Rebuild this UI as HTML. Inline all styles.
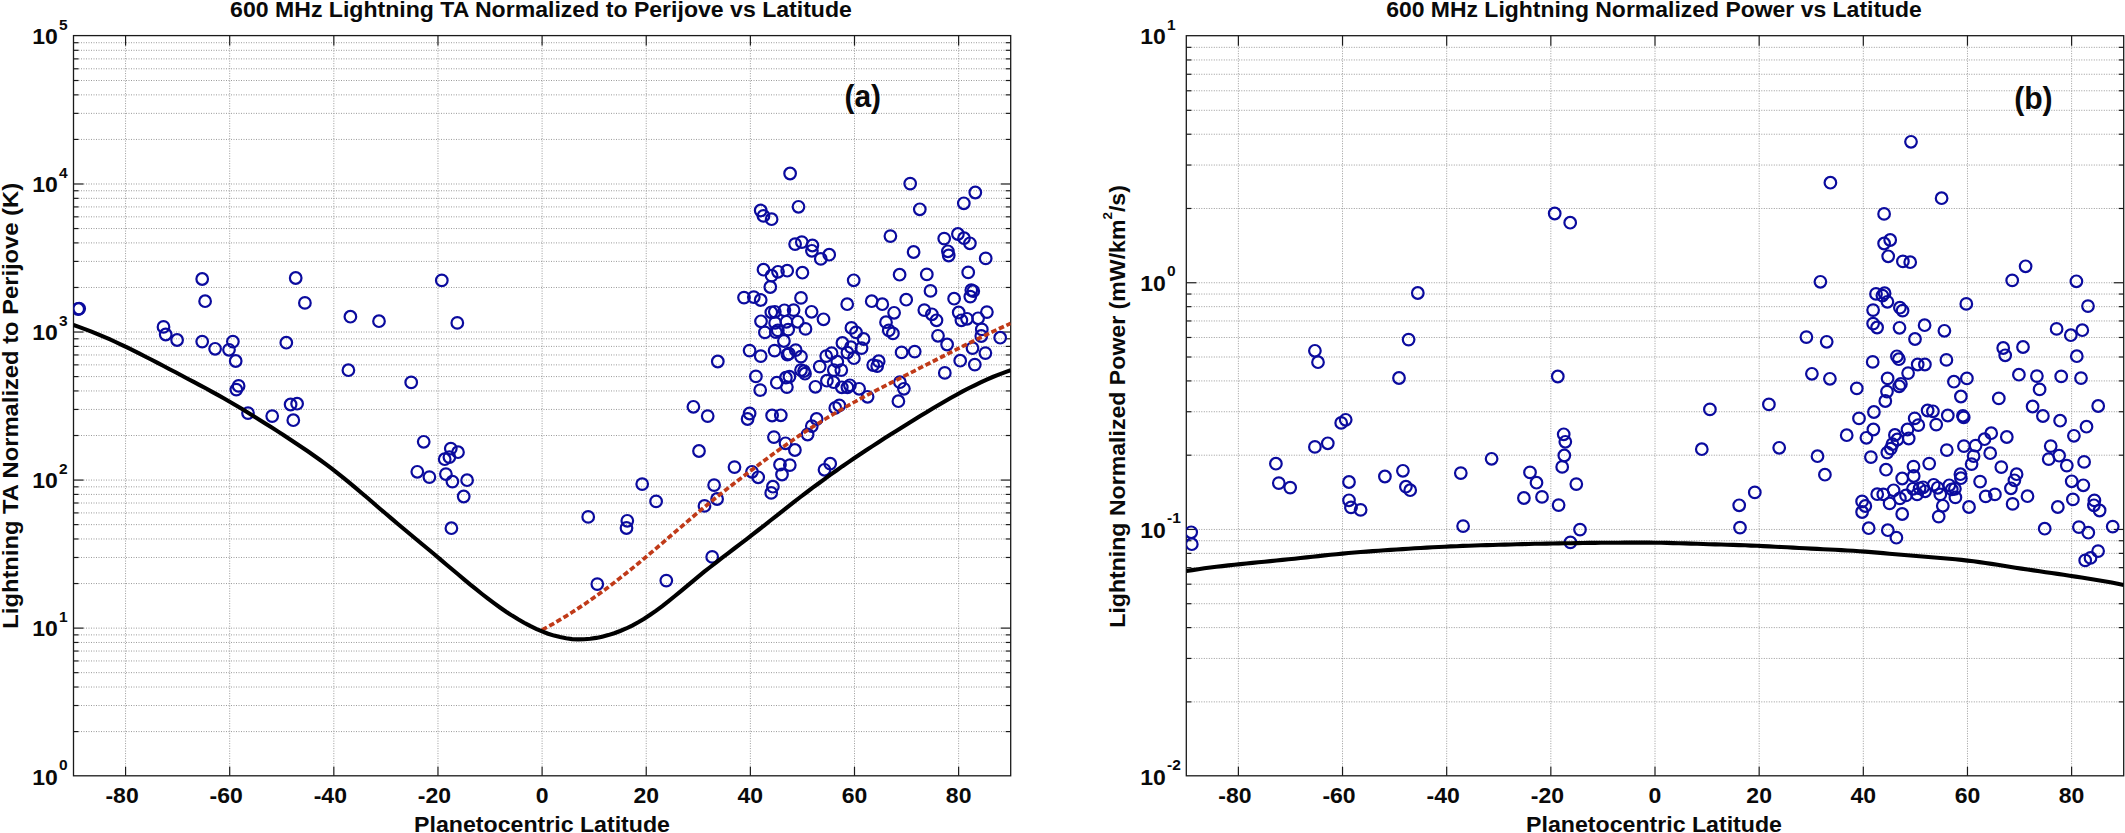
<!DOCTYPE html>
<html lang="en"><head><meta charset="utf-8"><title>600 MHz Lightning vs Latitude</title>
<style>html,body{margin:0;padding:0;background:#fff}svg{display:block}</style></head>
<body>
<svg width="2125" height="833" viewBox="0 0 2125 833">
<style>.gr{stroke:#9a9a9a;stroke-width:1;stroke-dasharray:1 1.5}text{fill:#0a0a0a}</style>
<rect width="2125" height="833" fill="#fff"/>
<g><line x1="125.57" y1="45.60" x2="125.57" y2="766.80" class="gr"/><line x1="229.70" y1="45.60" x2="229.70" y2="766.80" class="gr"/><line x1="333.83" y1="45.60" x2="333.83" y2="766.80" class="gr"/><line x1="437.97" y1="45.60" x2="437.97" y2="766.80" class="gr"/><line x1="542.10" y1="45.60" x2="542.10" y2="766.80" class="gr"/><line x1="646.23" y1="45.60" x2="646.23" y2="766.80" class="gr"/><line x1="750.37" y1="45.60" x2="750.37" y2="766.80" class="gr"/><line x1="854.50" y1="45.60" x2="854.50" y2="766.80" class="gr"/><line x1="958.63" y1="45.60" x2="958.63" y2="766.80" class="gr"/><line x1="78.50" y1="139.43" x2="1005.70" y2="139.43" class="gr"/><line x1="78.50" y1="113.36" x2="1005.70" y2="113.36" class="gr"/><line x1="78.50" y1="94.86" x2="1005.70" y2="94.86" class="gr"/><line x1="78.50" y1="80.51" x2="1005.70" y2="80.51" class="gr"/><line x1="78.50" y1="68.79" x2="1005.70" y2="68.79" class="gr"/><line x1="78.50" y1="58.88" x2="1005.70" y2="58.88" class="gr"/><line x1="78.50" y1="50.30" x2="1005.70" y2="50.30" class="gr"/><line x1="78.50" y1="42.72" x2="1005.70" y2="42.72" class="gr"/><line x1="83.50" y1="183.99" x2="1000.70" y2="183.99" class="gr"/><line x1="78.50" y1="287.47" x2="1005.70" y2="287.47" class="gr"/><line x1="78.50" y1="261.40" x2="1005.70" y2="261.40" class="gr"/><line x1="78.50" y1="242.90" x2="1005.70" y2="242.90" class="gr"/><line x1="78.50" y1="228.55" x2="1005.70" y2="228.55" class="gr"/><line x1="78.50" y1="216.83" x2="1005.70" y2="216.83" class="gr"/><line x1="78.50" y1="206.92" x2="1005.70" y2="206.92" class="gr"/><line x1="78.50" y1="198.34" x2="1005.70" y2="198.34" class="gr"/><line x1="78.50" y1="190.76" x2="1005.70" y2="190.76" class="gr"/><line x1="83.50" y1="332.03" x2="1000.70" y2="332.03" class="gr"/><line x1="78.50" y1="435.51" x2="1005.70" y2="435.51" class="gr"/><line x1="78.50" y1="409.44" x2="1005.70" y2="409.44" class="gr"/><line x1="78.50" y1="390.94" x2="1005.70" y2="390.94" class="gr"/><line x1="78.50" y1="376.59" x2="1005.70" y2="376.59" class="gr"/><line x1="78.50" y1="364.87" x2="1005.70" y2="364.87" class="gr"/><line x1="78.50" y1="354.96" x2="1005.70" y2="354.96" class="gr"/><line x1="78.50" y1="346.38" x2="1005.70" y2="346.38" class="gr"/><line x1="78.50" y1="338.80" x2="1005.70" y2="338.80" class="gr"/><line x1="83.50" y1="480.07" x2="1000.70" y2="480.07" class="gr"/><line x1="78.50" y1="583.55" x2="1005.70" y2="583.55" class="gr"/><line x1="78.50" y1="557.48" x2="1005.70" y2="557.48" class="gr"/><line x1="78.50" y1="538.98" x2="1005.70" y2="538.98" class="gr"/><line x1="78.50" y1="524.63" x2="1005.70" y2="524.63" class="gr"/><line x1="78.50" y1="512.91" x2="1005.70" y2="512.91" class="gr"/><line x1="78.50" y1="503.00" x2="1005.70" y2="503.00" class="gr"/><line x1="78.50" y1="494.42" x2="1005.70" y2="494.42" class="gr"/><line x1="78.50" y1="486.84" x2="1005.70" y2="486.84" class="gr"/><line x1="83.50" y1="628.11" x2="1000.70" y2="628.11" class="gr"/><line x1="78.50" y1="731.59" x2="1005.70" y2="731.59" class="gr"/><line x1="78.50" y1="705.52" x2="1005.70" y2="705.52" class="gr"/><line x1="78.50" y1="687.02" x2="1005.70" y2="687.02" class="gr"/><line x1="78.50" y1="672.67" x2="1005.70" y2="672.67" class="gr"/><line x1="78.50" y1="660.95" x2="1005.70" y2="660.95" class="gr"/><line x1="78.50" y1="651.04" x2="1005.70" y2="651.04" class="gr"/><line x1="78.50" y1="642.46" x2="1005.70" y2="642.46" class="gr"/><line x1="78.50" y1="634.88" x2="1005.70" y2="634.88" class="gr"/></g><g stroke="#1a1a1a" stroke-width="1.2"><line x1="73.50" y1="139.43" x2="78.50" y2="139.43"/><line x1="1010.70" y1="139.43" x2="1005.70" y2="139.43"/><line x1="73.50" y1="113.36" x2="78.50" y2="113.36"/><line x1="1010.70" y1="113.36" x2="1005.70" y2="113.36"/><line x1="73.50" y1="94.86" x2="78.50" y2="94.86"/><line x1="1010.70" y1="94.86" x2="1005.70" y2="94.86"/><line x1="73.50" y1="80.51" x2="78.50" y2="80.51"/><line x1="1010.70" y1="80.51" x2="1005.70" y2="80.51"/><line x1="73.50" y1="68.79" x2="78.50" y2="68.79"/><line x1="1010.70" y1="68.79" x2="1005.70" y2="68.79"/><line x1="73.50" y1="58.88" x2="78.50" y2="58.88"/><line x1="1010.70" y1="58.88" x2="1005.70" y2="58.88"/><line x1="73.50" y1="50.30" x2="78.50" y2="50.30"/><line x1="1010.70" y1="50.30" x2="1005.70" y2="50.30"/><line x1="73.50" y1="42.72" x2="78.50" y2="42.72"/><line x1="1010.70" y1="42.72" x2="1005.70" y2="42.72"/><line x1="73.50" y1="183.99" x2="83.50" y2="183.99"/><line x1="1010.70" y1="183.99" x2="1000.70" y2="183.99"/><line x1="73.50" y1="287.47" x2="78.50" y2="287.47"/><line x1="1010.70" y1="287.47" x2="1005.70" y2="287.47"/><line x1="73.50" y1="261.40" x2="78.50" y2="261.40"/><line x1="1010.70" y1="261.40" x2="1005.70" y2="261.40"/><line x1="73.50" y1="242.90" x2="78.50" y2="242.90"/><line x1="1010.70" y1="242.90" x2="1005.70" y2="242.90"/><line x1="73.50" y1="228.55" x2="78.50" y2="228.55"/><line x1="1010.70" y1="228.55" x2="1005.70" y2="228.55"/><line x1="73.50" y1="216.83" x2="78.50" y2="216.83"/><line x1="1010.70" y1="216.83" x2="1005.70" y2="216.83"/><line x1="73.50" y1="206.92" x2="78.50" y2="206.92"/><line x1="1010.70" y1="206.92" x2="1005.70" y2="206.92"/><line x1="73.50" y1="198.34" x2="78.50" y2="198.34"/><line x1="1010.70" y1="198.34" x2="1005.70" y2="198.34"/><line x1="73.50" y1="190.76" x2="78.50" y2="190.76"/><line x1="1010.70" y1="190.76" x2="1005.70" y2="190.76"/><line x1="73.50" y1="332.03" x2="83.50" y2="332.03"/><line x1="1010.70" y1="332.03" x2="1000.70" y2="332.03"/><line x1="73.50" y1="435.51" x2="78.50" y2="435.51"/><line x1="1010.70" y1="435.51" x2="1005.70" y2="435.51"/><line x1="73.50" y1="409.44" x2="78.50" y2="409.44"/><line x1="1010.70" y1="409.44" x2="1005.70" y2="409.44"/><line x1="73.50" y1="390.94" x2="78.50" y2="390.94"/><line x1="1010.70" y1="390.94" x2="1005.70" y2="390.94"/><line x1="73.50" y1="376.59" x2="78.50" y2="376.59"/><line x1="1010.70" y1="376.59" x2="1005.70" y2="376.59"/><line x1="73.50" y1="364.87" x2="78.50" y2="364.87"/><line x1="1010.70" y1="364.87" x2="1005.70" y2="364.87"/><line x1="73.50" y1="354.96" x2="78.50" y2="354.96"/><line x1="1010.70" y1="354.96" x2="1005.70" y2="354.96"/><line x1="73.50" y1="346.38" x2="78.50" y2="346.38"/><line x1="1010.70" y1="346.38" x2="1005.70" y2="346.38"/><line x1="73.50" y1="338.80" x2="78.50" y2="338.80"/><line x1="1010.70" y1="338.80" x2="1005.70" y2="338.80"/><line x1="73.50" y1="480.07" x2="83.50" y2="480.07"/><line x1="1010.70" y1="480.07" x2="1000.70" y2="480.07"/><line x1="73.50" y1="583.55" x2="78.50" y2="583.55"/><line x1="1010.70" y1="583.55" x2="1005.70" y2="583.55"/><line x1="73.50" y1="557.48" x2="78.50" y2="557.48"/><line x1="1010.70" y1="557.48" x2="1005.70" y2="557.48"/><line x1="73.50" y1="538.98" x2="78.50" y2="538.98"/><line x1="1010.70" y1="538.98" x2="1005.70" y2="538.98"/><line x1="73.50" y1="524.63" x2="78.50" y2="524.63"/><line x1="1010.70" y1="524.63" x2="1005.70" y2="524.63"/><line x1="73.50" y1="512.91" x2="78.50" y2="512.91"/><line x1="1010.70" y1="512.91" x2="1005.70" y2="512.91"/><line x1="73.50" y1="503.00" x2="78.50" y2="503.00"/><line x1="1010.70" y1="503.00" x2="1005.70" y2="503.00"/><line x1="73.50" y1="494.42" x2="78.50" y2="494.42"/><line x1="1010.70" y1="494.42" x2="1005.70" y2="494.42"/><line x1="73.50" y1="486.84" x2="78.50" y2="486.84"/><line x1="1010.70" y1="486.84" x2="1005.70" y2="486.84"/><line x1="73.50" y1="628.11" x2="83.50" y2="628.11"/><line x1="1010.70" y1="628.11" x2="1000.70" y2="628.11"/><line x1="73.50" y1="731.59" x2="78.50" y2="731.59"/><line x1="1010.70" y1="731.59" x2="1005.70" y2="731.59"/><line x1="73.50" y1="705.52" x2="78.50" y2="705.52"/><line x1="1010.70" y1="705.52" x2="1005.70" y2="705.52"/><line x1="73.50" y1="687.02" x2="78.50" y2="687.02"/><line x1="1010.70" y1="687.02" x2="1005.70" y2="687.02"/><line x1="73.50" y1="672.67" x2="78.50" y2="672.67"/><line x1="1010.70" y1="672.67" x2="1005.70" y2="672.67"/><line x1="73.50" y1="660.95" x2="78.50" y2="660.95"/><line x1="1010.70" y1="660.95" x2="1005.70" y2="660.95"/><line x1="73.50" y1="651.04" x2="78.50" y2="651.04"/><line x1="1010.70" y1="651.04" x2="1005.70" y2="651.04"/><line x1="73.50" y1="642.46" x2="78.50" y2="642.46"/><line x1="1010.70" y1="642.46" x2="1005.70" y2="642.46"/><line x1="73.50" y1="634.88" x2="78.50" y2="634.88"/><line x1="1010.70" y1="634.88" x2="1005.70" y2="634.88"/><line x1="125.57" y1="35.60" x2="125.57" y2="45.60"/><line x1="125.57" y1="775.80" x2="125.57" y2="766.80"/><line x1="229.70" y1="35.60" x2="229.70" y2="45.60"/><line x1="229.70" y1="775.80" x2="229.70" y2="766.80"/><line x1="333.83" y1="35.60" x2="333.83" y2="45.60"/><line x1="333.83" y1="775.80" x2="333.83" y2="766.80"/><line x1="437.97" y1="35.60" x2="437.97" y2="45.60"/><line x1="437.97" y1="775.80" x2="437.97" y2="766.80"/><line x1="542.10" y1="35.60" x2="542.10" y2="45.60"/><line x1="542.10" y1="775.80" x2="542.10" y2="766.80"/><line x1="646.23" y1="35.60" x2="646.23" y2="45.60"/><line x1="646.23" y1="775.80" x2="646.23" y2="766.80"/><line x1="750.37" y1="35.60" x2="750.37" y2="45.60"/><line x1="750.37" y1="775.80" x2="750.37" y2="766.80"/><line x1="854.50" y1="35.60" x2="854.50" y2="45.60"/><line x1="854.50" y1="775.80" x2="854.50" y2="766.80"/><line x1="958.63" y1="35.60" x2="958.63" y2="45.60"/><line x1="958.63" y1="775.80" x2="958.63" y2="766.80"/></g><rect x="73.50" y="35.60" width="937.20" height="740.20" fill="none" stroke="#1a1a1a" stroke-width="1.3"/>
<g><line x1="1238.38" y1="45.70" x2="1238.38" y2="766.80" class="gr"/><line x1="1342.53" y1="45.70" x2="1342.53" y2="766.80" class="gr"/><line x1="1446.69" y1="45.70" x2="1446.69" y2="766.80" class="gr"/><line x1="1550.84" y1="45.70" x2="1550.84" y2="766.80" class="gr"/><line x1="1655.00" y1="45.70" x2="1655.00" y2="766.80" class="gr"/><line x1="1759.16" y1="45.70" x2="1759.16" y2="766.80" class="gr"/><line x1="1863.31" y1="45.70" x2="1863.31" y2="766.80" class="gr"/><line x1="1967.47" y1="45.70" x2="1967.47" y2="766.80" class="gr"/><line x1="2071.62" y1="45.70" x2="2071.62" y2="766.80" class="gr"/><line x1="1191.30" y1="208.49" x2="2118.70" y2="208.49" class="gr"/><line x1="1191.30" y1="165.04" x2="2118.70" y2="165.04" class="gr"/><line x1="1191.30" y1="134.22" x2="2118.70" y2="134.22" class="gr"/><line x1="1191.30" y1="110.31" x2="2118.70" y2="110.31" class="gr"/><line x1="1191.30" y1="90.78" x2="2118.70" y2="90.78" class="gr"/><line x1="1191.30" y1="74.26" x2="2118.70" y2="74.26" class="gr"/><line x1="1191.30" y1="59.96" x2="2118.70" y2="59.96" class="gr"/><line x1="1191.30" y1="47.34" x2="2118.70" y2="47.34" class="gr"/><line x1="1196.30" y1="282.75" x2="2113.70" y2="282.75" class="gr"/><line x1="1191.30" y1="455.19" x2="2118.70" y2="455.19" class="gr"/><line x1="1191.30" y1="411.74" x2="2118.70" y2="411.74" class="gr"/><line x1="1191.30" y1="380.92" x2="2118.70" y2="380.92" class="gr"/><line x1="1191.30" y1="357.01" x2="2118.70" y2="357.01" class="gr"/><line x1="1191.30" y1="337.48" x2="2118.70" y2="337.48" class="gr"/><line x1="1191.30" y1="320.96" x2="2118.70" y2="320.96" class="gr"/><line x1="1191.30" y1="306.66" x2="2118.70" y2="306.66" class="gr"/><line x1="1191.30" y1="294.04" x2="2118.70" y2="294.04" class="gr"/><line x1="1196.30" y1="529.45" x2="2113.70" y2="529.45" class="gr"/><line x1="1191.30" y1="701.89" x2="2118.70" y2="701.89" class="gr"/><line x1="1191.30" y1="658.44" x2="2118.70" y2="658.44" class="gr"/><line x1="1191.30" y1="627.62" x2="2118.70" y2="627.62" class="gr"/><line x1="1191.30" y1="603.71" x2="2118.70" y2="603.71" class="gr"/><line x1="1191.30" y1="584.18" x2="2118.70" y2="584.18" class="gr"/><line x1="1191.30" y1="567.66" x2="2118.70" y2="567.66" class="gr"/><line x1="1191.30" y1="553.36" x2="2118.70" y2="553.36" class="gr"/><line x1="1191.30" y1="540.74" x2="2118.70" y2="540.74" class="gr"/></g><g stroke="#1a1a1a" stroke-width="1.2"><line x1="1186.30" y1="208.49" x2="1191.30" y2="208.49"/><line x1="2123.70" y1="208.49" x2="2118.70" y2="208.49"/><line x1="1186.30" y1="165.04" x2="1191.30" y2="165.04"/><line x1="2123.70" y1="165.04" x2="2118.70" y2="165.04"/><line x1="1186.30" y1="134.22" x2="1191.30" y2="134.22"/><line x1="2123.70" y1="134.22" x2="2118.70" y2="134.22"/><line x1="1186.30" y1="110.31" x2="1191.30" y2="110.31"/><line x1="2123.70" y1="110.31" x2="2118.70" y2="110.31"/><line x1="1186.30" y1="90.78" x2="1191.30" y2="90.78"/><line x1="2123.70" y1="90.78" x2="2118.70" y2="90.78"/><line x1="1186.30" y1="74.26" x2="1191.30" y2="74.26"/><line x1="2123.70" y1="74.26" x2="2118.70" y2="74.26"/><line x1="1186.30" y1="59.96" x2="1191.30" y2="59.96"/><line x1="2123.70" y1="59.96" x2="2118.70" y2="59.96"/><line x1="1186.30" y1="47.34" x2="1191.30" y2="47.34"/><line x1="2123.70" y1="47.34" x2="2118.70" y2="47.34"/><line x1="1186.30" y1="282.75" x2="1196.30" y2="282.75"/><line x1="2123.70" y1="282.75" x2="2113.70" y2="282.75"/><line x1="1186.30" y1="455.19" x2="1191.30" y2="455.19"/><line x1="2123.70" y1="455.19" x2="2118.70" y2="455.19"/><line x1="1186.30" y1="411.74" x2="1191.30" y2="411.74"/><line x1="2123.70" y1="411.74" x2="2118.70" y2="411.74"/><line x1="1186.30" y1="380.92" x2="1191.30" y2="380.92"/><line x1="2123.70" y1="380.92" x2="2118.70" y2="380.92"/><line x1="1186.30" y1="357.01" x2="1191.30" y2="357.01"/><line x1="2123.70" y1="357.01" x2="2118.70" y2="357.01"/><line x1="1186.30" y1="337.48" x2="1191.30" y2="337.48"/><line x1="2123.70" y1="337.48" x2="2118.70" y2="337.48"/><line x1="1186.30" y1="320.96" x2="1191.30" y2="320.96"/><line x1="2123.70" y1="320.96" x2="2118.70" y2="320.96"/><line x1="1186.30" y1="306.66" x2="1191.30" y2="306.66"/><line x1="2123.70" y1="306.66" x2="2118.70" y2="306.66"/><line x1="1186.30" y1="294.04" x2="1191.30" y2="294.04"/><line x1="2123.70" y1="294.04" x2="2118.70" y2="294.04"/><line x1="1186.30" y1="529.45" x2="1196.30" y2="529.45"/><line x1="2123.70" y1="529.45" x2="2113.70" y2="529.45"/><line x1="1186.30" y1="701.89" x2="1191.30" y2="701.89"/><line x1="2123.70" y1="701.89" x2="2118.70" y2="701.89"/><line x1="1186.30" y1="658.44" x2="1191.30" y2="658.44"/><line x1="2123.70" y1="658.44" x2="2118.70" y2="658.44"/><line x1="1186.30" y1="627.62" x2="1191.30" y2="627.62"/><line x1="2123.70" y1="627.62" x2="2118.70" y2="627.62"/><line x1="1186.30" y1="603.71" x2="1191.30" y2="603.71"/><line x1="2123.70" y1="603.71" x2="2118.70" y2="603.71"/><line x1="1186.30" y1="584.18" x2="1191.30" y2="584.18"/><line x1="2123.70" y1="584.18" x2="2118.70" y2="584.18"/><line x1="1186.30" y1="567.66" x2="1191.30" y2="567.66"/><line x1="2123.70" y1="567.66" x2="2118.70" y2="567.66"/><line x1="1186.30" y1="553.36" x2="1191.30" y2="553.36"/><line x1="2123.70" y1="553.36" x2="2118.70" y2="553.36"/><line x1="1186.30" y1="540.74" x2="1191.30" y2="540.74"/><line x1="2123.70" y1="540.74" x2="2118.70" y2="540.74"/><line x1="1238.38" y1="35.70" x2="1238.38" y2="45.70"/><line x1="1238.38" y1="775.80" x2="1238.38" y2="766.80"/><line x1="1342.53" y1="35.70" x2="1342.53" y2="45.70"/><line x1="1342.53" y1="775.80" x2="1342.53" y2="766.80"/><line x1="1446.69" y1="35.70" x2="1446.69" y2="45.70"/><line x1="1446.69" y1="775.80" x2="1446.69" y2="766.80"/><line x1="1550.84" y1="35.70" x2="1550.84" y2="45.70"/><line x1="1550.84" y1="775.80" x2="1550.84" y2="766.80"/><line x1="1655.00" y1="35.70" x2="1655.00" y2="45.70"/><line x1="1655.00" y1="775.80" x2="1655.00" y2="766.80"/><line x1="1759.16" y1="35.70" x2="1759.16" y2="45.70"/><line x1="1759.16" y1="775.80" x2="1759.16" y2="766.80"/><line x1="1863.31" y1="35.70" x2="1863.31" y2="45.70"/><line x1="1863.31" y1="775.80" x2="1863.31" y2="766.80"/><line x1="1967.47" y1="35.70" x2="1967.47" y2="45.70"/><line x1="1967.47" y1="775.80" x2="1967.47" y2="766.80"/><line x1="2071.62" y1="35.70" x2="2071.62" y2="45.70"/><line x1="2071.62" y1="775.80" x2="2071.62" y2="766.80"/></g><rect x="1186.30" y="35.70" width="937.40" height="740.10" fill="none" stroke="#1a1a1a" stroke-width="1.3"/>
<g font-family="'Liberation Sans', Arial, sans-serif" font-weight="bold">
<text transform="translate(122.07,803.30) scale(1.0700,1)" text-anchor="middle" font-size="21.5">-80</text><text transform="translate(226.20,803.30) scale(1.0700,1)" text-anchor="middle" font-size="21.5">-60</text><text transform="translate(330.33,803.30) scale(1.0700,1)" text-anchor="middle" font-size="21.5">-40</text><text transform="translate(434.47,803.30) scale(1.0700,1)" text-anchor="middle" font-size="21.5">-20</text><text transform="translate(542.10,803.30) scale(1.0700,1)" text-anchor="middle" font-size="21.5">0</text><text transform="translate(646.23,803.30) scale(1.0700,1)" text-anchor="middle" font-size="21.5">20</text><text transform="translate(750.37,803.30) scale(1.0700,1)" text-anchor="middle" font-size="21.5">40</text><text transform="translate(854.50,803.30) scale(1.0700,1)" text-anchor="middle" font-size="21.5">60</text><text transform="translate(958.63,803.30) scale(1.0700,1)" text-anchor="middle" font-size="21.5">80</text><text transform="translate(57.70,44.30) scale(1.0700,1)" text-anchor="end" font-size="21.5">10</text><text transform="translate(59.10,29.60) scale(1.0700,1)" text-anchor="start" font-size="14.5">5</text><text transform="translate(57.70,192.34) scale(1.0700,1)" text-anchor="end" font-size="21.5">10</text><text transform="translate(59.10,177.64) scale(1.0700,1)" text-anchor="start" font-size="14.5">4</text><text transform="translate(57.70,340.38) scale(1.0700,1)" text-anchor="end" font-size="21.5">10</text><text transform="translate(59.10,325.68) scale(1.0700,1)" text-anchor="start" font-size="14.5">3</text><text transform="translate(57.70,488.42) scale(1.0700,1)" text-anchor="end" font-size="21.5">10</text><text transform="translate(59.10,473.72) scale(1.0700,1)" text-anchor="start" font-size="14.5">2</text><text transform="translate(57.70,636.46) scale(1.0700,1)" text-anchor="end" font-size="21.5">10</text><text transform="translate(59.10,621.76) scale(1.0700,1)" text-anchor="start" font-size="14.5">1</text><text transform="translate(57.70,784.50) scale(1.0700,1)" text-anchor="end" font-size="21.5">10</text><text transform="translate(59.10,769.80) scale(1.0700,1)" text-anchor="start" font-size="14.5">0</text>
<text transform="translate(1234.88,803.30) scale(1.0700,1)" text-anchor="middle" font-size="21.5">-80</text><text transform="translate(1339.03,803.30) scale(1.0700,1)" text-anchor="middle" font-size="21.5">-60</text><text transform="translate(1443.19,803.30) scale(1.0700,1)" text-anchor="middle" font-size="21.5">-40</text><text transform="translate(1547.34,803.30) scale(1.0700,1)" text-anchor="middle" font-size="21.5">-20</text><text transform="translate(1655.00,803.30) scale(1.0700,1)" text-anchor="middle" font-size="21.5">0</text><text transform="translate(1759.16,803.30) scale(1.0700,1)" text-anchor="middle" font-size="21.5">20</text><text transform="translate(1863.31,803.30) scale(1.0700,1)" text-anchor="middle" font-size="21.5">40</text><text transform="translate(1967.47,803.30) scale(1.0700,1)" text-anchor="middle" font-size="21.5">60</text><text transform="translate(2071.62,803.30) scale(1.0700,1)" text-anchor="middle" font-size="21.5">80</text><text transform="translate(1165.70,44.40) scale(1.0700,1)" text-anchor="end" font-size="21.5">10</text><text transform="translate(1167.10,29.70) scale(1.0700,1)" text-anchor="start" font-size="14.5">1</text><text transform="translate(1165.70,291.10) scale(1.0700,1)" text-anchor="end" font-size="21.5">10</text><text transform="translate(1167.10,276.40) scale(1.0700,1)" text-anchor="start" font-size="14.5">0</text><text transform="translate(1165.70,537.80) scale(1.0700,1)" text-anchor="end" font-size="21.5">10</text><text transform="translate(1167.10,523.10) scale(1.0700,1)" text-anchor="start" font-size="14.5">-1</text><text transform="translate(1165.70,784.50) scale(1.0700,1)" text-anchor="end" font-size="21.5">10</text><text transform="translate(1167.10,769.80) scale(1.0700,1)" text-anchor="start" font-size="14.5">-2</text>
<text transform="translate(541.00,17.20) scale(1.0735,1)" text-anchor="middle" font-size="21.5">600 MHz Lightning TA Normalized to Perijove vs Latitude</text>
<text transform="translate(1654.00,17.20) scale(1.0684,1)" text-anchor="middle" font-size="21.5">600 MHz Lightning Normalized Power vs Latitude</text>
<text transform="translate(542.00,831.80) scale(1.0768,1)" text-anchor="middle" font-size="21.5">Planetocentric Latitude</text>
<text transform="translate(1654.00,831.80) scale(1.0768,1)" text-anchor="middle" font-size="21.5">Planetocentric Latitude</text>
<text transform="translate(18.20,405.80) rotate(-90) scale(1.1048,1)" text-anchor="middle" font-size="21.5">Lightning TA Normalized to Perijove (K)</text>
<text transform="translate(1125.00,406.40) rotate(-90) scale(1.0751,1)" text-anchor="middle" font-size="21.5">Lightning Normalized Power (mW/km<tspan font-size="12.5" dy="-13">2</tspan><tspan dy="13">/s)</tspan></text>
<text x="862.8" y="106.9" text-anchor="middle" font-size="32" textLength="36.5" lengthAdjust="spacingAndGlyphs">(a)</text>
<text x="2033.4" y="109.4" text-anchor="middle" font-size="32" textLength="38.5" lengthAdjust="spacingAndGlyphs">(b)</text>
</g>
<clipPath id="ca"><rect x="73.5" y="35.6" width="937.20" height="740.20"/></clipPath>
<g clip-path="url(#ca)" fill="none">
<g stroke="#0b0b9e" stroke-width="2.2">
<circle cx="78.2" cy="309.0" r="5.8"/>
<circle cx="79.2" cy="308.6" r="5.8"/>
<circle cx="163.5" cy="326.9" r="5.8"/>
<circle cx="165.7" cy="334.5" r="5.8"/>
<circle cx="177.1" cy="340.0" r="5.8"/>
<circle cx="202.2" cy="279.0" r="5.8"/>
<circle cx="205.1" cy="301.2" r="5.8"/>
<circle cx="202.2" cy="341.6" r="5.8"/>
<circle cx="215.1" cy="348.8" r="5.8"/>
<circle cx="232.9" cy="341.6" r="5.8"/>
<circle cx="229.0" cy="349.8" r="5.8"/>
<circle cx="235.7" cy="361.0" r="5.8"/>
<circle cx="238.6" cy="385.9" r="5.8"/>
<circle cx="236.3" cy="389.6" r="5.8"/>
<circle cx="248.0" cy="413.1" r="5.8"/>
<circle cx="272.2" cy="416.1" r="5.8"/>
<circle cx="290.6" cy="404.5" r="5.8"/>
<circle cx="297.1" cy="403.7" r="5.8"/>
<circle cx="293.3" cy="420.2" r="5.8"/>
<circle cx="286.3" cy="342.7" r="5.8"/>
<circle cx="295.7" cy="278.0" r="5.8"/>
<circle cx="304.9" cy="302.9" r="5.8"/>
<circle cx="350.4" cy="316.7" r="5.8"/>
<circle cx="379.0" cy="321.2" r="5.8"/>
<circle cx="441.8" cy="280.4" r="5.8"/>
<circle cx="457.3" cy="322.9" r="5.8"/>
<circle cx="348.4" cy="370.2" r="5.8"/>
<circle cx="411.2" cy="382.4" r="5.8"/>
<circle cx="423.7" cy="441.8" r="5.8"/>
<circle cx="450.8" cy="448.6" r="5.8"/>
<circle cx="458.0" cy="452.2" r="5.8"/>
<circle cx="449.4" cy="457.1" r="5.8"/>
<circle cx="444.7" cy="459.2" r="5.8"/>
<circle cx="417.3" cy="471.8" r="5.8"/>
<circle cx="429.4" cy="477.1" r="5.8"/>
<circle cx="445.9" cy="474.1" r="5.8"/>
<circle cx="452.4" cy="481.6" r="5.8"/>
<circle cx="467.1" cy="480.2" r="5.8"/>
<circle cx="463.7" cy="496.5" r="5.8"/>
<circle cx="451.4" cy="528.2" r="5.8"/>
<circle cx="588.2" cy="516.9" r="5.8"/>
<circle cx="627.3" cy="520.8" r="5.8"/>
<circle cx="626.5" cy="528.0" r="5.8"/>
<circle cx="642.2" cy="484.1" r="5.8"/>
<circle cx="656.1" cy="501.4" r="5.8"/>
<circle cx="699.0" cy="451.0" r="5.8"/>
<circle cx="714.1" cy="485.1" r="5.8"/>
<circle cx="717.1" cy="499.0" r="5.8"/>
<circle cx="704.5" cy="505.9" r="5.8"/>
<circle cx="734.5" cy="467.1" r="5.8"/>
<circle cx="752.0" cy="471.8" r="5.8"/>
<circle cx="758.2" cy="477.3" r="5.8"/>
<circle cx="712.2" cy="556.9" r="5.8"/>
<circle cx="666.3" cy="580.6" r="5.8"/>
<circle cx="597.3" cy="584.1" r="5.8"/>
<circle cx="773.9" cy="437.1" r="5.8"/>
<circle cx="785.5" cy="443.3" r="5.8"/>
<circle cx="794.9" cy="450.0" r="5.8"/>
<circle cx="807.6" cy="434.5" r="5.8"/>
<circle cx="780.0" cy="464.7" r="5.8"/>
<circle cx="789.8" cy="465.1" r="5.8"/>
<circle cx="782.0" cy="474.5" r="5.8"/>
<circle cx="772.9" cy="486.7" r="5.8"/>
<circle cx="771.2" cy="492.9" r="5.8"/>
<circle cx="824.5" cy="469.8" r="5.8"/>
<circle cx="830.2" cy="463.7" r="5.8"/>
<circle cx="790.1" cy="173.5" r="5.8"/>
<circle cx="798.5" cy="206.8" r="5.8"/>
<circle cx="760.7" cy="210.5" r="5.8"/>
<circle cx="763.5" cy="215.9" r="5.8"/>
<circle cx="771.6" cy="219.2" r="5.8"/>
<circle cx="795.1" cy="244.1" r="5.8"/>
<circle cx="801.8" cy="242.1" r="5.8"/>
<circle cx="812.4" cy="245.5" r="5.8"/>
<circle cx="811.9" cy="250.8" r="5.8"/>
<circle cx="820.8" cy="258.9" r="5.8"/>
<circle cx="829.2" cy="254.7" r="5.8"/>
<circle cx="763.5" cy="269.7" r="5.8"/>
<circle cx="771.6" cy="275.7" r="5.8"/>
<circle cx="778.0" cy="271.8" r="5.8"/>
<circle cx="787.2" cy="270.7" r="5.8"/>
<circle cx="802.4" cy="272.7" r="5.8"/>
<circle cx="770.3" cy="287.0" r="5.8"/>
<circle cx="910.2" cy="183.6" r="5.8"/>
<circle cx="919.8" cy="209.3" r="5.8"/>
<circle cx="975.3" cy="192.5" r="5.8"/>
<circle cx="963.8" cy="203.3" r="5.8"/>
<circle cx="890.4" cy="236.1" r="5.8"/>
<circle cx="944.2" cy="238.6" r="5.8"/>
<circle cx="957.9" cy="234.0" r="5.8"/>
<circle cx="964.0" cy="238.2" r="5.8"/>
<circle cx="969.9" cy="243.3" r="5.8"/>
<circle cx="913.6" cy="252.0" r="5.8"/>
<circle cx="947.9" cy="251.3" r="5.8"/>
<circle cx="948.7" cy="255.5" r="5.8"/>
<circle cx="985.7" cy="258.4" r="5.8"/>
<circle cx="899.6" cy="274.7" r="5.8"/>
<circle cx="926.8" cy="274.4" r="5.8"/>
<circle cx="968.2" cy="272.4" r="5.8"/>
<circle cx="853.7" cy="280.3" r="5.8"/>
<circle cx="717.8" cy="361.5" r="5.8"/>
<circle cx="693.4" cy="406.8" r="5.8"/>
<circle cx="707.7" cy="416.1" r="5.8"/>
<circle cx="744.0" cy="297.6" r="5.8"/>
<circle cx="753.8" cy="297.1" r="5.8"/>
<circle cx="760.7" cy="300.0" r="5.8"/>
<circle cx="801.0" cy="297.9" r="5.8"/>
<circle cx="847.2" cy="304.2" r="5.8"/>
<circle cx="771.3" cy="312.3" r="5.8"/>
<circle cx="774.8" cy="311.8" r="5.8"/>
<circle cx="784.4" cy="310.3" r="5.8"/>
<circle cx="793.6" cy="310.1" r="5.8"/>
<circle cx="811.6" cy="311.8" r="5.8"/>
<circle cx="823.5" cy="319.3" r="5.8"/>
<circle cx="761.0" cy="321.3" r="5.8"/>
<circle cx="775.1" cy="322.9" r="5.8"/>
<circle cx="786.4" cy="321.8" r="5.8"/>
<circle cx="797.7" cy="321.8" r="5.8"/>
<circle cx="805.5" cy="328.9" r="5.8"/>
<circle cx="764.9" cy="332.4" r="5.8"/>
<circle cx="775.8" cy="332.2" r="5.8"/>
<circle cx="777.8" cy="330.4" r="5.8"/>
<circle cx="788.2" cy="329.6" r="5.8"/>
<circle cx="783.9" cy="341.0" r="5.8"/>
<circle cx="749.6" cy="350.6" r="5.8"/>
<circle cx="760.7" cy="356.1" r="5.8"/>
<circle cx="774.6" cy="350.6" r="5.8"/>
<circle cx="787.4" cy="354.6" r="5.8"/>
<circle cx="788.9" cy="353.6" r="5.8"/>
<circle cx="795.7" cy="350.1" r="5.8"/>
<circle cx="801.0" cy="356.6" r="5.8"/>
<circle cx="851.4" cy="327.9" r="5.8"/>
<circle cx="856.0" cy="332.4" r="5.8"/>
<circle cx="842.4" cy="343.0" r="5.8"/>
<circle cx="850.9" cy="347.1" r="5.8"/>
<circle cx="847.4" cy="352.6" r="5.8"/>
<circle cx="831.6" cy="353.1" r="5.8"/>
<circle cx="826.2" cy="356.1" r="5.8"/>
<circle cx="853.9" cy="358.2" r="5.8"/>
<circle cx="837.3" cy="361.7" r="5.8"/>
<circle cx="871.7" cy="301.2" r="5.8"/>
<circle cx="882.3" cy="304.2" r="5.8"/>
<circle cx="906.2" cy="299.7" r="5.8"/>
<circle cx="930.5" cy="290.9" r="5.8"/>
<circle cx="954.1" cy="298.7" r="5.8"/>
<circle cx="894.1" cy="312.8" r="5.8"/>
<circle cx="886.0" cy="322.2" r="5.8"/>
<circle cx="888.8" cy="330.4" r="5.8"/>
<circle cx="892.9" cy="333.4" r="5.8"/>
<circle cx="924.3" cy="310.1" r="5.8"/>
<circle cx="931.9" cy="314.3" r="5.8"/>
<circle cx="936.5" cy="320.3" r="5.8"/>
<circle cx="958.7" cy="312.5" r="5.8"/>
<circle cx="961.4" cy="320.3" r="5.8"/>
<circle cx="967.0" cy="318.8" r="5.8"/>
<circle cx="938.0" cy="335.8" r="5.8"/>
<circle cx="947.1" cy="344.5" r="5.8"/>
<circle cx="901.6" cy="352.4" r="5.8"/>
<circle cx="914.7" cy="351.6" r="5.8"/>
<circle cx="863.6" cy="339.0" r="5.8"/>
<circle cx="861.6" cy="348.1" r="5.8"/>
<circle cx="878.7" cy="361.2" r="5.8"/>
<circle cx="971.3" cy="290.1" r="5.8"/>
<circle cx="973.3" cy="291.1" r="5.8"/>
<circle cx="970.3" cy="296.6" r="5.8"/>
<circle cx="978.1" cy="318.3" r="5.8"/>
<circle cx="986.9" cy="312.1" r="5.8"/>
<circle cx="981.8" cy="329.4" r="5.8"/>
<circle cx="981.3" cy="336.0" r="5.8"/>
<circle cx="1000.2" cy="337.7" r="5.8"/>
<circle cx="972.5" cy="348.1" r="5.8"/>
<circle cx="985.4" cy="353.1" r="5.8"/>
<circle cx="960.2" cy="360.7" r="5.8"/>
<circle cx="819.7" cy="366.6" r="5.8"/>
<circle cx="755.9" cy="376.4" r="5.8"/>
<circle cx="760.2" cy="390.1" r="5.8"/>
<circle cx="776.8" cy="382.7" r="5.8"/>
<circle cx="785.9" cy="377.7" r="5.8"/>
<circle cx="789.4" cy="376.7" r="5.8"/>
<circle cx="786.9" cy="387.1" r="5.8"/>
<circle cx="801.0" cy="370.1" r="5.8"/>
<circle cx="804.0" cy="371.1" r="5.8"/>
<circle cx="805.0" cy="373.7" r="5.8"/>
<circle cx="815.4" cy="386.8" r="5.8"/>
<circle cx="826.9" cy="380.7" r="5.8"/>
<circle cx="833.6" cy="382.2" r="5.8"/>
<circle cx="833.8" cy="370.1" r="5.8"/>
<circle cx="841.3" cy="370.1" r="5.8"/>
<circle cx="841.8" cy="387.3" r="5.8"/>
<circle cx="847.4" cy="387.3" r="5.8"/>
<circle cx="849.9" cy="385.3" r="5.8"/>
<circle cx="749.6" cy="413.5" r="5.8"/>
<circle cx="747.6" cy="419.0" r="5.8"/>
<circle cx="772.1" cy="415.5" r="5.8"/>
<circle cx="780.8" cy="415.3" r="5.8"/>
<circle cx="839.3" cy="405.4" r="5.8"/>
<circle cx="835.3" cy="407.9" r="5.8"/>
<circle cx="816.6" cy="419.0" r="5.8"/>
<circle cx="811.8" cy="426.1" r="5.8"/>
<circle cx="873.2" cy="365.1" r="5.8"/>
<circle cx="877.2" cy="366.1" r="5.8"/>
<circle cx="944.8" cy="372.9" r="5.8"/>
<circle cx="899.9" cy="382.2" r="5.8"/>
<circle cx="903.9" cy="388.8" r="5.8"/>
<circle cx="898.4" cy="401.2" r="5.8"/>
<circle cx="867.6" cy="396.8" r="5.8"/>
<circle cx="859.1" cy="388.8" r="5.8"/>
<circle cx="974.8" cy="364.6" r="5.8"/>
</g>
<path d="M542.1,629.9 L548.1,626.6 L554.1,623.3 L560.1,619.7 L566.1,616.1 L572.1,612.3 L578.1,608.4 L584.2,604.4 L590.2,600.2 L596.2,596.0 L602.2,591.6 L608.2,587.2 L614.2,582.6 L620.2,577.9 L626.2,573.2 L632.2,568.4 L638.2,563.5 L644.2,558.5 L650.2,553.4 L656.2,548.3 L662.3,543.1 L668.3,537.9 L674.3,532.7 L680.3,527.6 L686.3,522.4 L692.3,517.3 L698.3,512.2 L704.3,507.2 L710.3,502.3 L716.3,497.4 L722.3,492.7 L728.3,487.9 L734.3,483.3 L740.4,478.6 L746.4,474.0 L752.4,469.5 L758.4,465.0 L764.4,460.5 L770.4,456.1 L776.4,451.7 L782.4,447.4 L788.4,443.2 L794.4,439.0 L800.4,434.9 L806.4,430.9 L812.4,427.0 L818.5,423.2 L824.5,419.5 L830.5,415.8 L836.5,412.3 L842.5,408.8 L848.5,405.3 L854.5,402.0 L860.5,398.7 L866.5,395.5 L872.5,392.3 L878.5,389.2 L884.5,386.1 L890.5,383.0 L896.6,380.0 L902.6,376.9 L908.6,373.9 L914.6,370.8 L920.6,367.7 L926.6,364.7 L932.6,361.6 L938.6,358.5 L944.6,355.5 L950.6,352.4 L956.6,349.4 L962.6,346.4 L968.6,343.4 L974.7,340.4 L980.7,337.5 L986.7,334.6 L992.7,331.7 L998.7,328.9 L1004.7,326.1 L1010.7,323.4" stroke="#c03a18" stroke-width="3.7" stroke-dasharray="5.5 2.7"/>
<path d="M73.5,325.0 L79.5,327.1 L85.5,329.3 L91.5,331.6 L97.5,334.1 L103.5,336.6 L109.5,339.2 L115.6,342.0 L121.6,344.8 L127.6,347.7 L133.6,350.6 L139.6,353.6 L145.6,356.7 L151.6,359.8 L157.6,362.9 L163.6,366.0 L169.6,369.2 L175.6,372.3 L181.6,375.5 L187.6,378.7 L193.7,381.9 L199.7,385.1 L205.7,388.3 L211.7,391.6 L217.7,394.9 L223.7,398.3 L229.7,401.7 L235.7,405.2 L241.7,408.8 L247.7,412.4 L253.7,416.2 L259.7,419.9 L265.7,423.7 L271.8,427.5 L277.8,431.4 L283.8,435.3 L289.8,439.2 L295.8,443.2 L301.8,447.2 L307.8,451.3 L313.8,455.5 L319.8,459.7 L325.8,464.1 L331.8,468.7 L337.8,473.3 L343.8,478.2 L349.9,483.1 L355.9,488.1 L361.9,493.2 L367.9,498.3 L373.9,503.5 L379.9,508.7 L385.9,513.8 L391.9,518.9 L397.9,524.0 L403.9,529.0 L409.9,534.0 L415.9,539.0 L421.9,544.0 L428.0,549.0 L434.0,554.0 L440.0,559.1 L446.0,564.2 L452.0,569.3 L458.0,574.3 L464.0,579.4 L470.0,584.4 L476.0,589.2 L482.0,594.0 L488.0,598.7 L494.0,603.2 L500.0,607.5 L506.1,611.7 L512.1,615.6 L518.1,619.3 L524.1,622.7 L530.1,625.9 L536.1,628.8 L542.1,631.4 L548.1,633.7 L554.1,635.6 L560.1,637.1 L566.1,638.3 L572.1,639.1 L578.1,639.4 L584.2,639.3 L590.2,638.8 L596.2,637.9 L602.2,636.7 L608.2,635.1 L614.2,633.2 L620.2,631.0 L626.2,628.5 L632.2,625.6 L638.2,622.3 L644.2,618.8 L650.2,614.8 L656.2,610.6 L662.3,606.1 L668.3,601.4 L674.3,596.5 L680.3,591.6 L686.3,586.6 L692.3,581.6 L698.3,576.6 L704.3,571.7 L710.3,567.0 L716.3,562.3 L722.3,557.7 L728.3,553.1 L734.3,548.5 L740.4,543.9 L746.4,539.3 L752.4,534.6 L758.4,530.0 L764.4,525.3 L770.4,520.5 L776.4,515.8 L782.4,511.1 L788.4,506.4 L794.4,501.7 L800.4,497.0 L806.4,492.5 L812.4,487.9 L818.5,483.5 L824.5,479.1 L830.5,474.7 L836.5,470.5 L842.5,466.2 L848.5,462.1 L854.5,458.0 L860.5,454.0 L866.5,450.0 L872.5,446.1 L878.5,442.2 L884.5,438.3 L890.5,434.5 L896.6,430.8 L902.6,427.0 L908.6,423.3 L914.6,419.5 L920.6,415.8 L926.6,412.2 L932.6,408.5 L938.6,405.0 L944.6,401.5 L950.6,398.0 L956.6,394.7 L962.6,391.4 L968.6,388.3 L974.7,385.3 L980.7,382.4 L986.7,379.6 L992.7,377.0 L998.7,374.6 L1004.7,372.3 L1010.7,370.2" stroke="#000" stroke-width="4.1"/>
</g>
<clipPath id="cb"><rect x="1186.3" y="35.7" width="937.40" height="740.10"/></clipPath>
<g clip-path="url(#cb)" fill="none">
<g stroke="#0b0b9e" stroke-width="2.2">
<circle cx="1408.6" cy="339.6" r="5.8"/>
<circle cx="1314.9" cy="350.8" r="5.8"/>
<circle cx="1318.0" cy="362.2" r="5.8"/>
<circle cx="1399.0" cy="378.0" r="5.8"/>
<circle cx="1345.7" cy="419.8" r="5.8"/>
<circle cx="1341.2" cy="422.9" r="5.8"/>
<circle cx="1327.8" cy="443.3" r="5.8"/>
<circle cx="1314.9" cy="446.9" r="5.8"/>
<circle cx="1275.9" cy="463.7" r="5.8"/>
<circle cx="1278.8" cy="483.1" r="5.8"/>
<circle cx="1290.2" cy="487.6" r="5.8"/>
<circle cx="1349.0" cy="482.0" r="5.8"/>
<circle cx="1384.9" cy="476.5" r="5.8"/>
<circle cx="1402.9" cy="470.8" r="5.8"/>
<circle cx="1405.9" cy="486.7" r="5.8"/>
<circle cx="1410.2" cy="490.2" r="5.8"/>
<circle cx="1191.2" cy="532.3" r="5.8"/>
<circle cx="1191.8" cy="544.2" r="5.8"/>
<circle cx="1349.0" cy="500.3" r="5.8"/>
<circle cx="1351.0" cy="507.4" r="5.8"/>
<circle cx="1360.6" cy="509.9" r="5.8"/>
<circle cx="1554.7" cy="213.5" r="5.8"/>
<circle cx="1570.2" cy="222.7" r="5.8"/>
<circle cx="1557.8" cy="376.5" r="5.8"/>
<circle cx="1563.7" cy="434.3" r="5.8"/>
<circle cx="1565.3" cy="441.8" r="5.8"/>
<circle cx="1564.3" cy="455.5" r="5.8"/>
<circle cx="1562.2" cy="466.9" r="5.8"/>
<circle cx="1491.6" cy="458.8" r="5.8"/>
<circle cx="1460.8" cy="473.1" r="5.8"/>
<circle cx="1530.0" cy="472.4" r="5.8"/>
<circle cx="1536.5" cy="482.7" r="5.8"/>
<circle cx="1576.3" cy="484.1" r="5.8"/>
<circle cx="1523.9" cy="498.0" r="5.8"/>
<circle cx="1542.0" cy="496.9" r="5.8"/>
<circle cx="1558.6" cy="505.1" r="5.8"/>
<circle cx="1463.1" cy="526.1" r="5.8"/>
<circle cx="1580.0" cy="529.6" r="5.8"/>
<circle cx="1570.4" cy="542.4" r="5.8"/>
<circle cx="1911.0" cy="141.8" r="5.8"/>
<circle cx="1830.4" cy="182.7" r="5.8"/>
<circle cx="1884.1" cy="213.9" r="5.8"/>
<circle cx="1890.2" cy="240.0" r="5.8"/>
<circle cx="1884.1" cy="243.5" r="5.8"/>
<circle cx="1888.2" cy="256.3" r="5.8"/>
<circle cx="1902.9" cy="261.4" r="5.8"/>
<circle cx="1910.2" cy="262.2" r="5.8"/>
<circle cx="1820.4" cy="281.8" r="5.8"/>
<circle cx="1806.4" cy="337.1" r="5.8"/>
<circle cx="1826.7" cy="341.8" r="5.8"/>
<circle cx="1811.9" cy="373.8" r="5.8"/>
<circle cx="1829.9" cy="378.8" r="5.8"/>
<circle cx="1709.9" cy="409.4" r="5.8"/>
<circle cx="1768.9" cy="404.4" r="5.8"/>
<circle cx="1856.8" cy="388.4" r="5.8"/>
<circle cx="1701.8" cy="449.2" r="5.8"/>
<circle cx="1779.2" cy="447.8" r="5.8"/>
<circle cx="1817.5" cy="456.2" r="5.8"/>
<circle cx="1824.9" cy="474.7" r="5.8"/>
<circle cx="1846.7" cy="435.2" r="5.8"/>
<circle cx="1754.8" cy="492.4" r="5.8"/>
<circle cx="1739.2" cy="505.3" r="5.8"/>
<circle cx="1740.0" cy="527.6" r="5.8"/>
<circle cx="1859.0" cy="418.4" r="5.8"/>
<circle cx="1941.6" cy="198.2" r="5.8"/>
<circle cx="2012.2" cy="280.4" r="5.8"/>
<circle cx="2025.6" cy="266.3" r="5.8"/>
<circle cx="1966.3" cy="303.9" r="5.8"/>
<circle cx="2076.4" cy="281.3" r="5.8"/>
<circle cx="1876.0" cy="293.9" r="5.8"/>
<circle cx="1882.4" cy="295.6" r="5.8"/>
<circle cx="1884.6" cy="293.2" r="5.8"/>
<circle cx="1887.4" cy="301.8" r="5.8"/>
<circle cx="1873.1" cy="310.1" r="5.8"/>
<circle cx="1899.9" cy="307.7" r="5.8"/>
<circle cx="1902.6" cy="310.6" r="5.8"/>
<circle cx="1873.1" cy="323.6" r="5.8"/>
<circle cx="1877.1" cy="327.5" r="5.8"/>
<circle cx="1899.5" cy="327.8" r="5.8"/>
<circle cx="1924.6" cy="325.2" r="5.8"/>
<circle cx="1915.0" cy="339.0" r="5.8"/>
<circle cx="1944.4" cy="330.8" r="5.8"/>
<circle cx="1872.7" cy="361.9" r="5.8"/>
<circle cx="1896.9" cy="356.3" r="5.8"/>
<circle cx="1898.9" cy="359.2" r="5.8"/>
<circle cx="1917.7" cy="364.5" r="5.8"/>
<circle cx="1924.9" cy="364.5" r="5.8"/>
<circle cx="1946.4" cy="359.9" r="5.8"/>
<circle cx="1908.1" cy="373.1" r="5.8"/>
<circle cx="1887.6" cy="378.4" r="5.8"/>
<circle cx="1966.9" cy="378.4" r="5.8"/>
<circle cx="1953.9" cy="381.7" r="5.8"/>
<circle cx="2088.0" cy="306.1" r="5.8"/>
<circle cx="2056.6" cy="328.9" r="5.8"/>
<circle cx="2070.8" cy="335.2" r="5.8"/>
<circle cx="2082.3" cy="330.2" r="5.8"/>
<circle cx="2003.2" cy="348.0" r="5.8"/>
<circle cx="2005.2" cy="355.3" r="5.8"/>
<circle cx="2023.0" cy="347.0" r="5.8"/>
<circle cx="2076.8" cy="356.2" r="5.8"/>
<circle cx="2018.9" cy="374.7" r="5.8"/>
<circle cx="2036.9" cy="376.1" r="5.8"/>
<circle cx="2061.2" cy="376.4" r="5.8"/>
<circle cx="2081.0" cy="378.1" r="5.8"/>
<circle cx="1900.9" cy="383.9" r="5.8"/>
<circle cx="1899.2" cy="386.3" r="5.8"/>
<circle cx="1887.0" cy="391.6" r="5.8"/>
<circle cx="1885.3" cy="401.0" r="5.8"/>
<circle cx="1960.9" cy="396.5" r="5.8"/>
<circle cx="1873.9" cy="412.0" r="5.8"/>
<circle cx="1873.4" cy="429.5" r="5.8"/>
<circle cx="1866.4" cy="437.8" r="5.8"/>
<circle cx="1927.6" cy="410.5" r="5.8"/>
<circle cx="1932.9" cy="411.3" r="5.8"/>
<circle cx="1947.8" cy="415.5" r="5.8"/>
<circle cx="1962.9" cy="415.8" r="5.8"/>
<circle cx="1963.7" cy="417.4" r="5.8"/>
<circle cx="1936.2" cy="424.6" r="5.8"/>
<circle cx="1914.7" cy="418.4" r="5.8"/>
<circle cx="1918.3" cy="425.1" r="5.8"/>
<circle cx="1907.5" cy="429.5" r="5.8"/>
<circle cx="1908.7" cy="438.5" r="5.8"/>
<circle cx="1894.9" cy="435.0" r="5.8"/>
<circle cx="1897.4" cy="439.5" r="5.8"/>
<circle cx="1892.4" cy="444.1" r="5.8"/>
<circle cx="1890.8" cy="448.6" r="5.8"/>
<circle cx="1887.3" cy="452.6" r="5.8"/>
<circle cx="1946.8" cy="450.1" r="5.8"/>
<circle cx="1963.9" cy="446.1" r="5.8"/>
<circle cx="2039.6" cy="389.4" r="5.8"/>
<circle cx="1998.8" cy="398.4" r="5.8"/>
<circle cx="2032.6" cy="406.5" r="5.8"/>
<circle cx="2042.9" cy="416.0" r="5.8"/>
<circle cx="2060.1" cy="420.7" r="5.8"/>
<circle cx="2073.9" cy="435.8" r="5.8"/>
<circle cx="2006.8" cy="437.0" r="5.8"/>
<circle cx="1991.2" cy="433.2" r="5.8"/>
<circle cx="1984.5" cy="439.2" r="5.8"/>
<circle cx="1975.6" cy="445.6" r="5.8"/>
<circle cx="1990.2" cy="453.2" r="5.8"/>
<circle cx="2050.7" cy="446.1" r="5.8"/>
<circle cx="2098.2" cy="406.0" r="5.8"/>
<circle cx="2086.5" cy="426.7" r="5.8"/>
<circle cx="2059.1" cy="455.7" r="5.8"/>
<circle cx="1870.9" cy="457.1" r="5.8"/>
<circle cx="1886.0" cy="469.7" r="5.8"/>
<circle cx="1929.2" cy="463.6" r="5.8"/>
<circle cx="1913.5" cy="466.6" r="5.8"/>
<circle cx="1913.7" cy="476.0" r="5.8"/>
<circle cx="1902.2" cy="478.5" r="5.8"/>
<circle cx="1960.4" cy="474.2" r="5.8"/>
<circle cx="1960.9" cy="478.2" r="5.8"/>
<circle cx="1893.6" cy="490.3" r="5.8"/>
<circle cx="1877.2" cy="494.2" r="5.8"/>
<circle cx="1883.3" cy="494.4" r="5.8"/>
<circle cx="1862.1" cy="501.4" r="5.8"/>
<circle cx="1865.3" cy="506.0" r="5.8"/>
<circle cx="1862.1" cy="512.0" r="5.8"/>
<circle cx="1889.6" cy="503.4" r="5.8"/>
<circle cx="1899.9" cy="498.4" r="5.8"/>
<circle cx="1906.0" cy="495.4" r="5.8"/>
<circle cx="1913.0" cy="488.8" r="5.8"/>
<circle cx="1917.1" cy="494.4" r="5.8"/>
<circle cx="1919.6" cy="488.3" r="5.8"/>
<circle cx="1923.1" cy="487.3" r="5.8"/>
<circle cx="1925.1" cy="491.3" r="5.8"/>
<circle cx="1933.7" cy="484.8" r="5.8"/>
<circle cx="1937.7" cy="487.8" r="5.8"/>
<circle cx="1940.3" cy="494.4" r="5.8"/>
<circle cx="1949.3" cy="485.3" r="5.8"/>
<circle cx="1951.8" cy="489.3" r="5.8"/>
<circle cx="1954.9" cy="488.8" r="5.8"/>
<circle cx="1955.4" cy="497.4" r="5.8"/>
<circle cx="1942.8" cy="505.8" r="5.8"/>
<circle cx="1938.7" cy="516.6" r="5.8"/>
<circle cx="1902.2" cy="514.0" r="5.8"/>
<circle cx="1868.7" cy="528.2" r="5.8"/>
<circle cx="1887.8" cy="530.2" r="5.8"/>
<circle cx="1973.6" cy="456.1" r="5.8"/>
<circle cx="1971.6" cy="464.1" r="5.8"/>
<circle cx="2001.3" cy="467.1" r="5.8"/>
<circle cx="1980.1" cy="481.6" r="5.8"/>
<circle cx="2016.6" cy="474.2" r="5.8"/>
<circle cx="2014.4" cy="480.3" r="5.8"/>
<circle cx="2010.9" cy="488.3" r="5.8"/>
<circle cx="1985.7" cy="496.4" r="5.8"/>
<circle cx="1994.9" cy="494.4" r="5.8"/>
<circle cx="2027.5" cy="496.2" r="5.8"/>
<circle cx="2012.6" cy="503.9" r="5.8"/>
<circle cx="1969.0" cy="507.0" r="5.8"/>
<circle cx="2048.7" cy="459.1" r="5.8"/>
<circle cx="2066.8" cy="465.6" r="5.8"/>
<circle cx="2071.7" cy="481.3" r="5.8"/>
<circle cx="2072.9" cy="499.4" r="5.8"/>
<circle cx="2057.8" cy="507.0" r="5.8"/>
<circle cx="2044.7" cy="528.7" r="5.8"/>
<circle cx="2078.9" cy="527.1" r="5.8"/>
<circle cx="2084.1" cy="461.9" r="5.8"/>
<circle cx="2083.3" cy="485.3" r="5.8"/>
<circle cx="2094.4" cy="500.4" r="5.8"/>
<circle cx="2093.9" cy="505.3" r="5.8"/>
<circle cx="2099.6" cy="510.5" r="5.8"/>
<circle cx="2088.3" cy="532.7" r="5.8"/>
<circle cx="2112.7" cy="526.6" r="5.8"/>
<circle cx="1896.4" cy="537.7" r="5.8"/>
<circle cx="2098.1" cy="551.1" r="5.8"/>
<circle cx="2090.5" cy="557.9" r="5.8"/>
<circle cx="2085.2" cy="560.4" r="5.8"/>
<circle cx="1417.8" cy="293.0" r="5.8"/>
</g>
<path d="M1186.3,571.0 L1192.3,570.1 L1198.3,569.2 L1204.3,568.3 L1210.3,567.5 L1216.3,566.8 L1222.4,566.1 L1228.4,565.4 L1234.4,564.7 L1240.4,564.1 L1246.4,563.5 L1252.4,562.9 L1258.4,562.3 L1264.4,561.7 L1270.4,561.1 L1276.4,560.5 L1282.4,559.9 L1288.5,559.3 L1294.5,558.7 L1300.5,558.0 L1306.5,557.4 L1312.5,556.7 L1318.5,556.1 L1324.5,555.4 L1330.5,554.8 L1336.5,554.2 L1342.5,553.6 L1348.5,553.0 L1354.6,552.5 L1360.6,552.0 L1366.6,551.6 L1372.6,551.1 L1378.6,550.7 L1384.6,550.3 L1390.6,549.9 L1396.6,549.5 L1402.6,549.1 L1408.6,548.7 L1414.6,548.3 L1420.6,548.0 L1426.7,547.6 L1432.7,547.3 L1438.7,547.0 L1444.7,546.7 L1450.7,546.4 L1456.7,546.2 L1462.7,545.9 L1468.7,545.7 L1474.7,545.5 L1480.7,545.3 L1486.7,545.1 L1492.8,545.0 L1498.8,544.8 L1504.8,544.6 L1510.8,544.5 L1516.8,544.3 L1522.8,544.1 L1528.8,544.0 L1534.8,543.8 L1540.8,543.7 L1546.8,543.6 L1552.8,543.5 L1558.9,543.4 L1564.9,543.3 L1570.9,543.2 L1576.9,543.1 L1582.9,543.0 L1588.9,542.9 L1594.9,542.9 L1600.9,542.8 L1606.9,542.8 L1612.9,542.7 L1618.9,542.7 L1625.0,542.6 L1631.0,542.6 L1637.0,542.6 L1643.0,542.6 L1649.0,542.6 L1655.0,542.7 L1661.0,542.8 L1667.0,542.9 L1673.0,543.1 L1679.0,543.2 L1685.0,543.4 L1691.1,543.6 L1697.1,543.8 L1703.1,544.0 L1709.1,544.2 L1715.1,544.4 L1721.1,544.5 L1727.1,544.7 L1733.1,544.9 L1739.1,545.1 L1745.1,545.3 L1751.1,545.6 L1757.2,545.8 L1763.2,546.1 L1769.2,546.4 L1775.2,546.7 L1781.2,547.0 L1787.2,547.3 L1793.2,547.6 L1799.2,548.0 L1805.2,548.3 L1811.2,548.6 L1817.2,548.9 L1823.3,549.2 L1829.3,549.5 L1835.3,549.8 L1841.3,550.1 L1847.3,550.5 L1853.3,550.8 L1859.3,551.2 L1865.3,551.6 L1871.3,552.1 L1877.3,552.6 L1883.3,553.1 L1889.3,553.7 L1895.4,554.2 L1901.4,554.8 L1907.4,555.3 L1913.4,555.8 L1919.4,556.3 L1925.4,556.8 L1931.4,557.3 L1937.4,557.8 L1943.4,558.2 L1949.4,558.8 L1955.4,559.3 L1961.5,559.9 L1967.5,560.6 L1973.5,561.3 L1979.5,562.1 L1985.5,563.0 L1991.5,563.9 L1997.5,564.8 L2003.5,565.8 L2009.5,566.7 L2015.5,567.7 L2021.5,568.6 L2027.6,569.5 L2033.6,570.4 L2039.6,571.3 L2045.6,572.2 L2051.6,573.0 L2057.6,573.9 L2063.6,574.8 L2069.6,575.7 L2075.6,576.6 L2081.6,577.5 L2087.6,578.5 L2093.7,579.5 L2099.7,580.5 L2105.7,581.5 L2111.7,582.6 L2117.7,583.8 L2123.7,585.0" stroke="#000" stroke-width="4.1"/>
</g>
</svg>
</body></html>
